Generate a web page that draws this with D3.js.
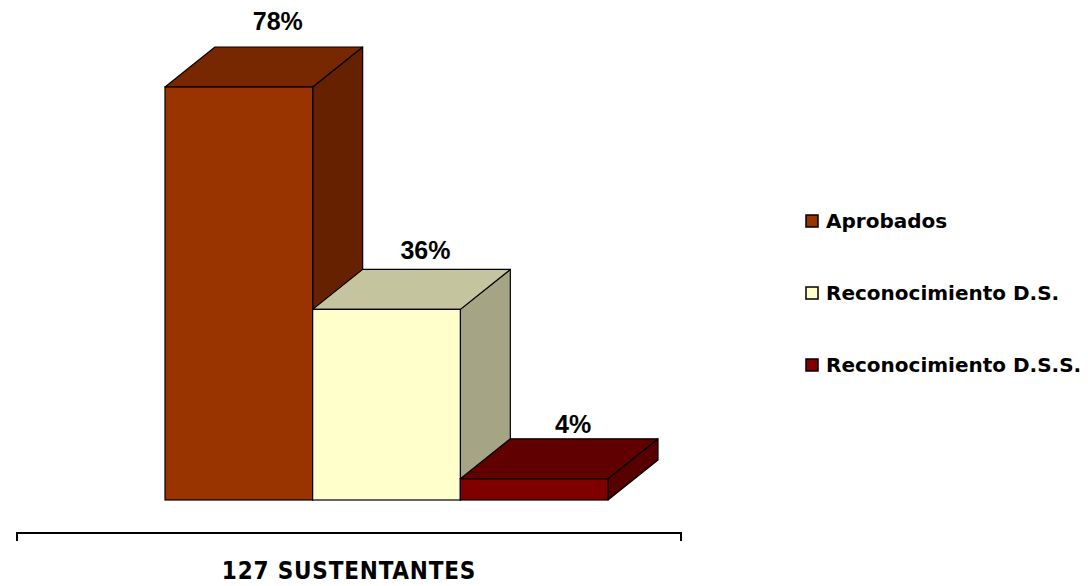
<!DOCTYPE html>
<html>
<head>
<meta charset="utf-8">
<script src="https://cdn.jsdelivr.net/npm/d3@7"></script>
<style>
  body { margin: 0; background: #fff; }
  text { font-family: "Liberation Sans", Arial, sans-serif; }
</style>
</head>
<body>
<script>
var categories = ["Aprobados", "Reconocimiento D.S.", "Reconocimiento D.S.S."];
var values = [78, 36, 4];
var valueLabels = ["78%", "36%", "4%"];
var groupLabel = "127 SUSTENTANTES";

var frontColors = ["#993300", "#ffffcc", "#800000"];
var topColors = ["#772800", "#c4c49e", "#600000"];
var sideColors = ["#662200", "#a5a585", "#580000"];

var width = 1088, height = 586;
var depthX = 50, depthY = 40;

var svg = d3.select("body").append("svg")
  .attr("width", width)
  .attr("height", height);

var x = d3.scaleBand().domain(categories).range([165, 608]).paddingInner(0);
var y = d3.scaleLinear().domain([0, 100]).range([500, 500 - 529.5]);
var bw = x.bandwidth();

var bars = svg.selectAll("g.bar")
  .data(categories)
  .enter().append("g")
  .attr("class", "bar");

bars.each(function(c, i) {
  var g = d3.select(this);
  var x0 = x(c), x1 = x0 + bw;
  var yt = y(values[i]), yb = y(0);
  // side face
  g.append("path")
    .attr("d", "M" + x1 + "," + yb + "L" + (x1 + depthX) + "," + (yb - depthY) +
      "L" + (x1 + depthX) + "," + (yt - depthY) + "L" + x1 + "," + yt + "Z")
    .attr("fill", sideColors[i]).attr("stroke", "#000").attr("stroke-width", 1.2)
    .attr("stroke-linejoin", "round");
  // top face
  g.append("path")
    .attr("d", "M" + x0 + "," + yt + "L" + (x0 + depthX) + "," + (yt - depthY) +
      "L" + (x1 + depthX) + "," + (yt - depthY) + "L" + x1 + "," + yt + "Z")
    .attr("fill", topColors[i]).attr("stroke", "#000").attr("stroke-width", 1.2)
    .attr("stroke-linejoin", "round");
  // front face
  g.append("rect")
    .attr("x", x0).attr("y", yt)
    .attr("width", bw).attr("height", yb - yt)
    .attr("fill", frontColors[i]).attr("stroke", "#000").attr("stroke-width", 1.2);
  // value label (sits a bit higher for taller bars)
  g.append("text")
    .attr("x", x0 + bw / 2 + 39)
    .attr("y", y(values[i] * 1.028) - depthY - 14.5 + 9)
    .attr("text-anchor", "middle")
    .attr("font-size", 25).attr("font-weight", "bold")
    .text(valueLabels[i]);
});

// category axis bracket
var axisY = 533;
svg.append("path")
  .attr("d", "M17," + (axisY + 8) + "V" + axisY + "H681V" + (axisY + 8))
  .attr("fill", "none").attr("stroke", "#000").attr("stroke-width", 2);

svg.append("text")
  .attr("x", 349).attr("y", 579)
  .attr("text-anchor", "middle")
  .style("font-family", '"DejaVu Sans Condensed", "Liberation Sans Narrow", sans-serif')
  .style("font-stretch", "condensed")
  .style("letter-spacing", "0.8px")
  .attr("font-size", 24).attr("font-weight", "bold")
  .text(groupLabel);

// legend
var legend = svg.selectAll("g.legend")
  .data(categories)
  .enter().append("g")
  .attr("class", "legend")
  .attr("transform", function(d, i) { return "translate(806," + (221 + i * 72) + ")"; });

legend.append("rect")
  .attr("x", 0).attr("y", -6).attr("width", 12).attr("height", 12)
  .attr("fill", function(d, i) { return frontColors[i]; })
  .attr("stroke", "#000").attr("stroke-width", 1.5);

legend.append("text")
  .attr("x", 20).attr("y", 7)
  .style("font-family", '"DejaVu Sans", sans-serif')
  .attr("font-size", 20).attr("font-weight", "bold")
  .text(function(d) { return d; });
</script>
</body>
</html>
